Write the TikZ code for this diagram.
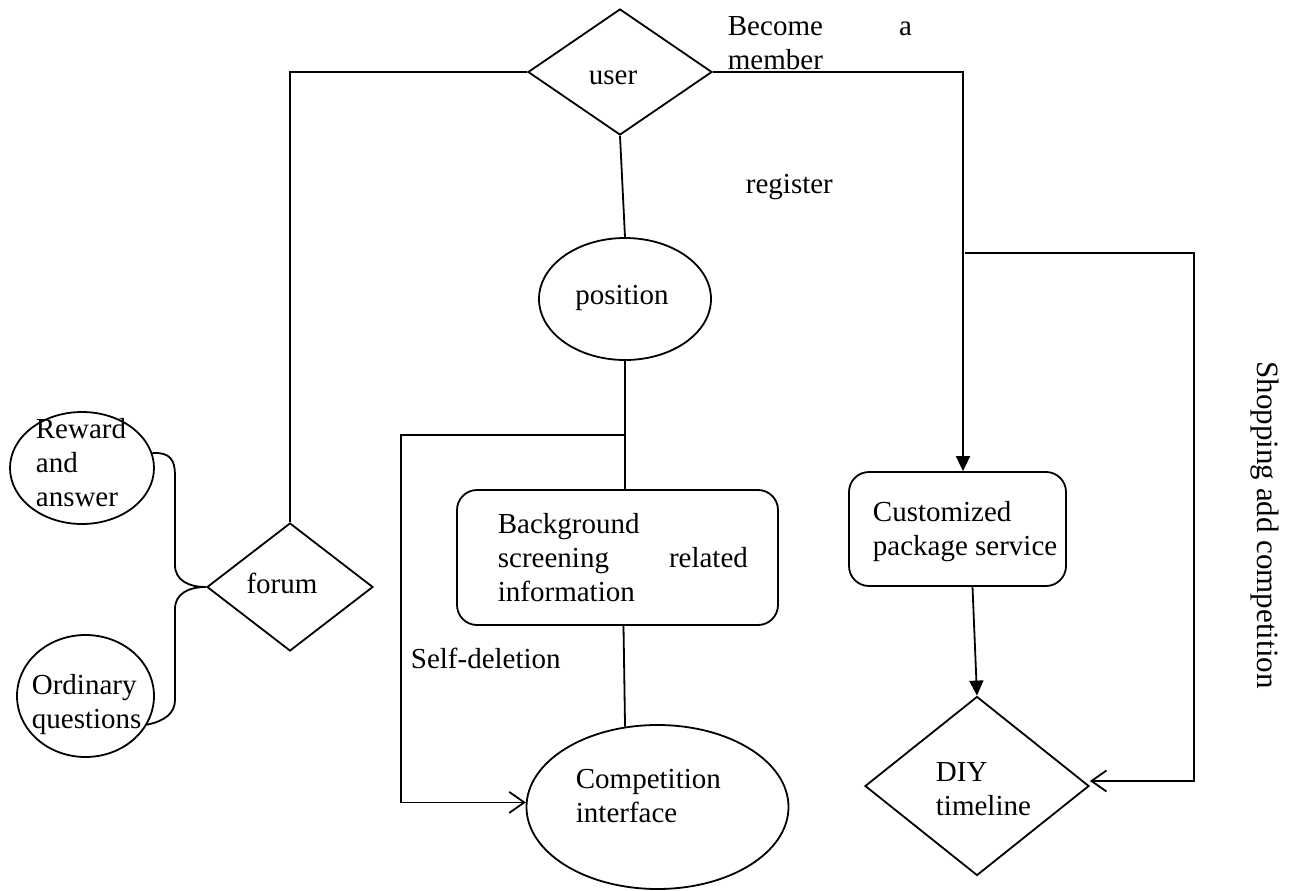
\documentclass[tikz,border=0pt]{standalone}
\usepackage{fontspec}
\setmainfont{Liberation Serif}
\usetikzlibrary{shapes.geometric,arrows.meta}
\begin{document}
\begin{tikzpicture}[x=1pt,y=-1pt,line width=1.8pt,
  every node/.style={inner sep=0pt},
  t/.style={font=\fontsize{29}{34}\selectfont,align=left},
  dia/.style={draw,diamond},
  ell/.style={draw,ellipse},
  rbox/.style={draw,rectangle,rounded corners=20pt},
  barbhead/.style={-{Straight Barb[length=15pt,width=21pt]}},
  fillhead/.style={-{Triangle[length=15pt,width=14pt]}}]
\useasboundingbox (0,0) rectangle (1294,891);

% shapes
\node[dia,minimum width=184pt,minimum height=126pt] (user) at (620,72) {};
\node[ell,minimum width=172pt,minimum height=122pt] (position) at (625,299) {};
\node[dia,minimum width=166pt,minimum height=128pt] (forum) at (290,587) {};
\node[ell,minimum width=144pt,minimum height=112pt] (reward) at (82,468) {};
\node[ell,minimum width=137pt,minimum height=122pt] (ordinary) at (85.5,696) {};
\node[rbox,minimum width=321pt,minimum height=135pt] (bg) at (617.5,557.5) {};
\node[ell,minimum width=262pt,minimum height=164pt] (comp) at (657.5,807) {};
\node[rbox,minimum width=217pt,minimum height=114pt] (cust) at (957.5,529) {};
\node[dia,minimum width=224pt,minimum height=179pt] (diy) at (977,786) {};

% texts
\node[t,anchor=center] (usertxt) at (613,78) {\strut user};
\node[t,anchor=north west] (becometxt) at (727,11) {\strut\hbox to 184pt{Become\hfill a}\\member};
\node[t,anchor=west] (registertxt) at (745,187) {\strut register};
\node[t,anchor=center] (positiontxt) at (622,298) {\strut position};
\node[t,anchor=center] (forumtxt) at (282,587) {\strut forum};
\node[t,anchor=north west] (rewardtxt) at (35,414) {\strut Reward\\and\\answer};
\node[t,anchor=north west] (ordinarytxt) at (31,670) {\strut Ordinary\\questions};
\node[t,anchor=north west] (bgtxt) at (497,509) {\strut Background\\\hbox to 250pt{screening\hfill related}\\information};
\node[t,anchor=west] (selfdeltxt) at (410,662) {\strut Self-deletion};
\node[t,anchor=north west] (comptxt) at (575,764) {\strut Competition\\interface};
\node[t,anchor=north west] (custtxt) at (872,497) {\strut Customized\\package service};
\node[t,anchor=north west] (diytxt) at (935,757) {\strut DIY\\timeline};
\node[font=\fontsize{31}{36}\selectfont,rotate=-90] (shoptxt) at (1265,525) {\strut Shopping add competition};

% connectors: user branches
\draw (user.west) -| (forum.north);
\draw (user.south) -- (position.north);
\coordinate (mcorner) at (963,72);
\draw[fillhead] (user.east) -- (mcorner) -- (mcorner |- cust.north);

% position to background and self-deletion path
\draw (position.south) -- (position.south |- bg.north);
\coordinate (sdfork) at (625,435);
\coordinate (sdcorner) at (401,435);
\draw[barbhead] (sdfork) -- (sdcorner) |- (comp.178);
\draw ([xshift=6pt]bg.south) -- (comp.112);

% shopping loop and package service
\coordinate (shfork) at (965,253);
\coordinate (shcorner) at (1194,253);
\draw[barbhead] (shfork) -- (shcorner) |- ([yshift=5pt]diy.east);
\draw[fillhead] ([xshift=15pt]cust.south) -- (diy.north);

% forum brackets
\draw (reward.12) .. controls (170,452) and (175,460) .. (175,475) -- (175,565)
      .. controls (175,580) and (188,587) .. (forum.west);
\draw (forum.west) .. controls (188,587) and (175,594) .. (175,609) -- (175,700)
      .. controls (175,713) and (165,721) .. (ordinary.-25);
\end{tikzpicture}
\end{document}
